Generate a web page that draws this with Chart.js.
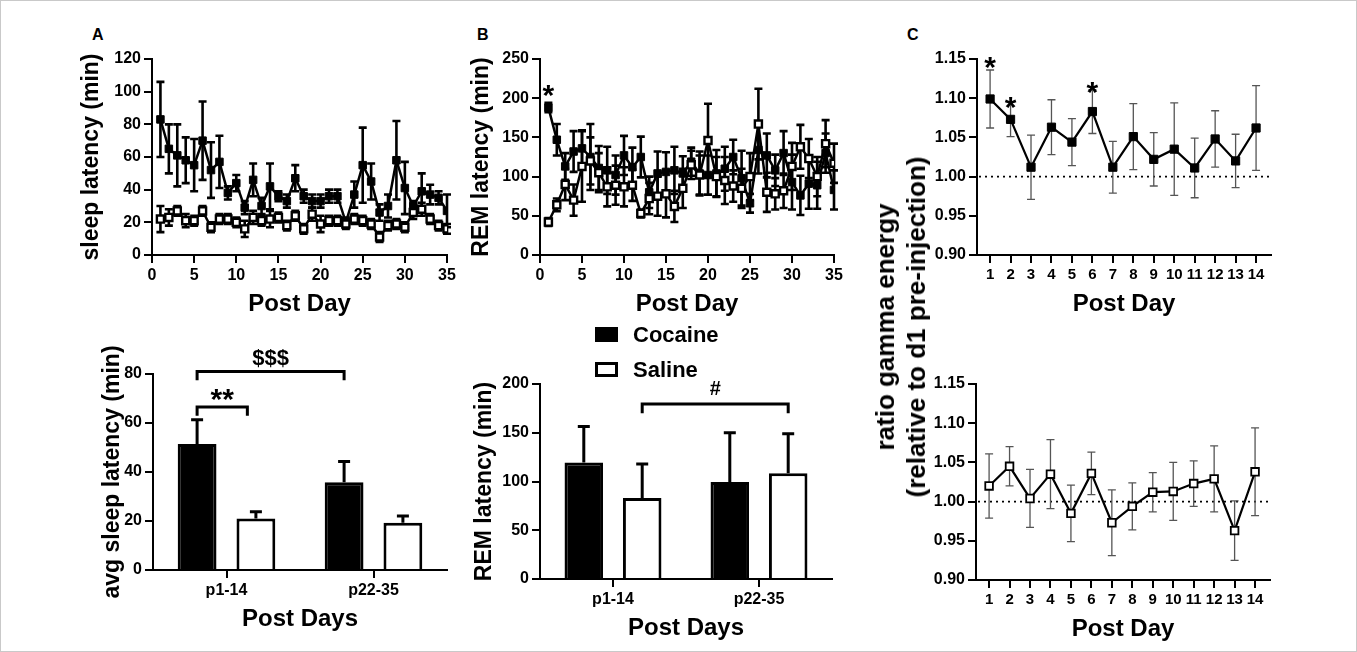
<!DOCTYPE html>
<html>
<head>
<meta charset="utf-8">
<script src="https://cdn.jsdelivr.net/npm/chart.js@4.4.1/dist/chart.umd.min.js"></script>
<style>
  html, body { margin: 0; padding: 0; background: #fff; }
  #figura { position: relative; width: 1357px; height: 652px; overflow: hidden;
            font-family: 'Liberation Sans', Arial, Helvetica, sans-serif; font-weight: bold; color: #000; }
  #marco { position: absolute; left: 0; top: 0; right: 0; bottom: 0; border: 1px solid #c9c9c9; }
  .caja { position: absolute; }
  .letra { position: absolute; font-size: 16px; line-height: 16px; }
  .ley-texto { position: absolute; font-size: 22px; line-height: 24px; }
  .ley-cuadro { position: absolute; width: 23px; height: 15px; box-sizing: border-box; }
  #tituloC { position: absolute; left: 901px; top: 327px; transform: translate(-50%, -50%) rotate(-90deg);
             white-space: nowrap; text-align: center; font-size: 26px; line-height: 31px; }
</style>
</head>
<body>
<div id="figura">
  <div id="marco"></div>
  <div class="letra" style="left:92px;top:27px">A</div>
  <div class="letra" style="left:477px;top:27px">B</div>
  <div class="letra" style="left:907px;top:27px">C</div>

  <div class="caja" style="left:78px;top:39px;width:384px;height:280px"><canvas id="latSueno"></canvas></div>
  <div class="caja" style="left:468px;top:39px;width:381px;height:280px"><canvas id="latRem"></canvas></div>
  <div class="caja" style="left:900px;top:39px;width:386px;height:280px"><canvas id="gammaCocaina"></canvas></div>
  <div class="caja" style="left:99px;top:344px;width:363px;height:290px"><canvas id="promSueno"></canvas></div>
  <div class="caja" style="left:471px;top:354px;width:376px;height:289px"><canvas id="promRem"></canvas></div>
  <div class="caja" style="left:899px;top:364px;width:386px;height:280px"><canvas id="gammaSalina"></canvas></div>

  <!-- Leyenda -->
  <div class="ley-cuadro" style="left:595px;top:327px;background:#000"></div>
  <div class="ley-texto" style="left:633px;top:323px">Cocaine</div>
  <div class="ley-cuadro" style="left:595px;top:362px;background:#fff;border:3px solid #000"></div>
  <div class="ley-texto" style="left:633px;top:358px">Saline</div>

  <div id="tituloC">ratio gamma energy<br>(relative to d1 pre-injection)</div>
</div>

<script>
// Días post inyección
const diasPost = [1, 2, 3, 4, 5, 6, 7, 8, 9, 10, 11, 12, 13, 14, 15, 16, 17, 18, 19, 20,
                  21, 22, 23, 24, 25, 26, 27, 28, 29, 30, 31, 32, 33, 34, 35];
const diasGamma = [1, 2, 3, 4, 5, 6, 7, 8, 9, 10, 11, 12, 13, 14];
const periodos = ['p1-14', 'p22-35'];

// A: latencia de sueño (min)
const latSuenoCocaina = [83, 65, 61, 58, 55, 70, 52, 57, 38, 44, 29, 46, 30, 42, 36, 33, 47, 36, 33, 33,
                         36, 36, 20, 37, 55, 45, 26, 30, 58, 41, 30, 39, 37, 35, 27];
const latSuenoCocainaErr = [23, 15, 19, 14, 16, 24, 17, 16, 4, 5, 4, 10, 5, 14, 3, 4, 8, 4, 4, 4,
                            4, 4, 3, 8, 23, 11, 5, 7, 24, 16, 3, 11, 6, 4, 10];
const latSuenoSalina = [22, 23, 27, 21, 21, 27, 17, 22, 22, 20, 16, 23, 21, 22, 23, 18, 24, 16, 25, 19,
                        21, 21, 19, 22, 21, 19, 11, 18, 19, 17, 26, 28, 22, 18, 16];
const latSuenoSalinaErr = [8, 5, 3, 4, 3, 3, 3, 3, 3, 3, 5, 4, 3, 5, 3, 3, 3, 3, 4, 5,
                           3, 3, 3, 3, 3, 3, 3, 3, 3, 3, 4, 4, 3, 3, 3];

// B: latencia REM (min)
const latRemCocaina = [188, 147, 113, 132, 136, 125, 111, 108, 102, 127, 112, 125, 80, 104, 106, 108, 104, 119, 104, 102,
                       104, 110, 125, 98, 66, 134, 127, 108, 130, 93, 76, 91, 89, 130, 83];
const latRemCocainaErr = [6, 20, 17, 26, 23, 42, 28, 30, 25, 25, 25, 26, 20, 28, 25, 30, 22, 18, 28, 25,
                          30, 28, 22, 35, 12, 30, 28, 20, 28, 35, 25, 32, 30, 25, 25];
const latRemSalina = [42, 64, 90, 70, 113, 120, 105, 87, 89, 87, 89, 53, 72, 75, 78, 62, 85, 115, 102, 146,
                      100, 95, 88, 85, 100, 167, 80, 78, 82, 113, 138, 123, 100, 142, 117];
const latRemSalinaErr = [5, 8, 20, 20, 45, 30, 25, 25, 25, 25, 20, 5, 20, 25, 30, 20, 25, 18, 25, 47,
                         25, 30, 20, 25, 30, 45, 25, 20, 22, 30, 28, 25, 25, 30, 25];

// A/B abajo: promedios por periodo
const promSuenoCocaina = [51.4, 35.8];
const promSuenoCocainaErr = [9.9, 8.5];
const promSuenoSalina = [21.0, 19.3];
const promSuenoSalinaErr = [2.8, 2.7];
const promRemCocaina = [119.5, 99.5];
const promRemCocainaErr = [37, 50.5];
const promRemSalina = [83, 108.5];
const promRemSalinaErr = [35, 40.5];

// C: energía gamma relativa
const gammaCocaina = [1.099, 1.073, 1.012, 1.063, 1.044, 1.083, 1.012, 1.051, 1.022, 1.035, 1.011, 1.048, 1.020, 1.062];
const gammaCocainaErr = [0.037, 0.022, 0.041, 0.035, 0.030, 0.028, 0.033, 0.042, 0.034, 0.059, 0.038, 0.036, 0.034, 0.054];
const gammaSalina = [1.020, 1.045, 1.004, 1.035, 0.985, 1.036, 0.973, 0.994, 1.012, 1.013, 1.023, 1.029, 0.963, 1.038];
const gammaSalinaErr = [0.041, 0.025, 0.037, 0.044, 0.036, 0.027, 0.042, 0.030, 0.025, 0.037, 0.029, 0.042, 0.038, 0.056];

Chart.defaults.font.family = "'Liberation Sans', Arial, Helvetica, sans-serif";
Chart.defaults.font.weight = 'bold';
Chart.defaults.color = '#000';
Chart.defaults.animation = false;
Chart.defaults.plugins.legend.display = false;
Chart.defaults.plugins.tooltip.enabled = false;

// Barras de error (SEM), dibujadas antes de cada dataset
const barrasError = {
  id: 'barrasError',
  beforeDatasetDraw(chart, args) {
    const ds = chart.data.datasets[args.index];
    if (!ds.err) return;
    const ctx = chart.ctx;
    const y = chart.scales.y;
    ctx.save();
    ctx.strokeStyle = ds.errColor || '#000';
    ctx.lineWidth = ds.errAncho || 2;
    args.meta.data.forEach((el, i) => {
      const d = ds.data[i];
      const v = typeof d === 'object' ? d.y : d;
      const c = (ds.errTapa || 8) / 2;
      const arriba = y.getPixelForValue(v + ds.err[i]);
      const abajo = ds.soloArriba ? el.y : y.getPixelForValue(v - ds.err[i]);
      ctx.beginPath();
      ctx.moveTo(el.x, abajo);
      ctx.lineTo(el.x, arriba);
      ctx.moveTo(el.x - c, arriba);
      ctx.lineTo(el.x + c, arriba);
      if (!ds.soloArriba) {
        ctx.moveTo(el.x - c, abajo);
        ctx.lineTo(el.x + c, abajo);
      }
      ctx.stroke();
    });
    ctx.restore();
  }
};

// Línea punteada de referencia en 1.00
function lineaPunteada(valor) {
  return {
    id: 'lineaPunteada',
    beforeDatasetsDraw(chart) {
      const { ctx, chartArea } = chart;
      const py = chart.scales.y.getPixelForValue(valor);
      ctx.save();
      ctx.strokeStyle = '#000';
      ctx.lineWidth = 1.8;
      ctx.setLineDash([2, 4]);
      ctx.beginPath();
      ctx.moveTo(chartArea.left + 2, py);
      ctx.lineTo(chartArea.right, py);
      ctx.stroke();
      ctx.restore();
    }
  };
}

// Corchetes y asteriscos de significancia
function marcas(corchetes, textos) {
  const posX = (chart, ref) => {
    const el = chart.getDatasetMeta(ref[0]).data[ref[1]];
    return el.x + (ref[2] || 0) * (el.width || 0);
  };
  return {
    id: 'marcas',
    afterDatasetsDraw(chart) {
      const ctx = chart.ctx;
      const y = chart.scales.y;
      ctx.save();
      ctx.strokeStyle = '#000';
      ctx.fillStyle = '#000';
      ctx.lineWidth = 3;
      corchetes.forEach(c => {
        const x1 = posX(chart, c.desde), x2 = posX(chart, c.hasta);
        const py = y.getPixelForValue(c.y), pb = y.getPixelForValue(c.baja);
        ctx.beginPath();
        ctx.moveTo(x1, pb);
        ctx.lineTo(x1, py);
        ctx.lineTo(x2, py);
        ctx.lineTo(x2, pb);
        ctx.stroke();
      });
      textos.forEach(t => {
        const x = t.en ? posX(chart, t.en) : (posX(chart, t.entre[0]) + posX(chart, t.entre[1])) / 2;
        ctx.font = `bold ${t.tam}px 'Liberation Sans', Arial, sans-serif`;
        ctx.textAlign = 'center';
        ctx.textBaseline = 'middle';
        ctx.fillText(t.texto, x, y.getPixelForValue(t.y) + (t.dy || 0));
      });
      ctx.restore();
    }
  };
}

function crearEjes(o) {
  const rejilla = { drawOnChartArea: false, color: '#000', lineWidth: 2, tickLength: 8, offset: false };
  const x = {
    type: o.xTipo,
    offset: o.xTipo === 'category',
    border: { color: '#000', width: 2 },
    grid: rejilla,
    ticks: { color: '#000', font: { size: o.tickX, weight: 'bold' }, padding: 3, maxRotation: 0, autoSkip: false },
    title: { display: true, text: o.tituloX, color: '#000', font: { size: 24, weight: 'bold' }, padding: 0 },
    afterFit: s => { s.height = 64; }
  };
  if (o.xMin !== undefined) { x.min = o.xMin; x.max = o.xMax; }
  if (o.xPaso) x.ticks.stepSize = o.xPaso;
  if (o.xTicks) x.afterBuildTicks = s => { s.ticks = o.xTicks.map(v => ({ value: v })); };

  const y = {
    min: o.yMin,
    max: o.yMax,
    border: { color: '#000', width: 2 },
    grid: rejilla,
    ticks: { stepSize: o.yPaso, color: '#000', font: { size: o.tickY, weight: 'bold' }, padding: 3 },
    title: o.tituloY
      ? { display: true, text: o.tituloY, color: '#000', font: { size: 23, weight: 'bold' }, padding: 0 }
      : { display: false },
    afterFit: s => { s.width = o.anchoY; }
  };
  if (o.yFormato) y.ticks.callback = o.yFormato;
  return { x, y };
}

const puntos = (xs, ys) => xs.map((d, i) => ({ x: d, y: ys[i] }));

function serieLinea(xs, valores, errores, relleno, radio, borde, extra) {
  return Object.assign({
    data: puntos(xs, valores),
    err: errores,
    borderColor: '#000',
    borderWidth: 2.5,
    pointStyle: 'rect',
    pointRadius: radio,
    pointBackgroundColor: relleno,
    pointBorderColor: '#000',
    pointBorderWidth: borde,
    tension: 0,
    errAncho: 2.6,
    errTapa: 8
  }, extra || {});
}

function serieBarra(valores, errores, relleno) {
  return {
    data: valores,
    err: errores,
    soloArriba: true,
    backgroundColor: relleno,
    borderColor: '#000',
    borderWidth: 3,
    categoryPercentage: 0.8,
    barPercentage: 0.66,
    errAncho: 3,
    errTapa: 12
  };
}

// A arriba
new Chart(document.getElementById('latSueno'), {
  type: 'line',
  data: {
    datasets: [
      serieLinea(diasPost, latSuenoSalina, latSuenoSalinaErr, '#fff', 5, 2.4),
      serieLinea(diasPost, latSuenoCocaina, latSuenoCocainaErr, '#000', 5.3, 1)
    ]
  },
  options: {
    responsive: true,
    maintainAspectRatio: false,
    layout: { padding: { top: 20, right: 15, left: 0, bottom: 0 } },
    scales: crearEjes({ xTipo: 'linear', xMin: 0, xMax: 35, xPaso: 5, tituloX: 'Post Day', tickX: 16,
                        yMin: 0, yMax: 120, yPaso: 20, tickY: 16, tituloY: 'sleep latency (min)', anchoY: 74 })
  },
  plugins: [barrasError]
});

// B arriba
new Chart(document.getElementById('latRem'), {
  type: 'line',
  data: {
    datasets: [
      serieLinea(diasPost, latRemSalina, latRemSalinaErr, '#fff', 5, 2.4),
      serieLinea(diasPost, latRemCocaina, latRemCocainaErr, '#000', 5.3, 1)
    ]
  },
  options: {
    responsive: true,
    maintainAspectRatio: false,
    layout: { padding: { top: 20, right: 15, left: 0, bottom: 0 } },
    scales: crearEjes({ xTipo: 'linear', xMin: 0, xMax: 35, xPaso: 5, tituloX: 'Post Day', tickX: 16,
                        yMin: 0, yMax: 250, yPaso: 50, tickY: 16, tituloY: 'REM latency (min)', anchoY: 72 })
  },
  plugins: [barrasError, marcas([], [{ en: [1, 0], y: 209, texto: '*', tam: 30, dy: 6 }])]
});

// C arriba (cocaína)
const estiloGamma = { errColor: '#555', errAncho: 1.3, errTapa: 8, borderWidth: 2.2 };
new Chart(document.getElementById('gammaCocaina'), {
  type: 'line',
  data: { datasets: [serieLinea(diasGamma, gammaCocaina, gammaCocainaErr, '#000', 5.8, 1, estiloGamma)] },
  options: {
    responsive: true,
    maintainAspectRatio: false,
    layout: { padding: { top: 20, right: 15, left: 0, bottom: 0 } },
    scales: crearEjes({ xTipo: 'linear', xMin: 0.36, xMax: 14.73, xTicks: diasGamma, tituloX: 'Post Day', tickX: 15,
                        yMin: 0.9, yMax: 1.15, yPaso: 0.05, tickY: 16, anchoY: 77, yFormato: v => v.toFixed(2) })
  },
  plugins: [lineaPunteada(1.0), barrasError, marcas([], [
    { en: [0, 0], y: 1.145, texto: '*', tam: 30, dy: 6 },
    { en: [0, 1], y: 1.094, texto: '*', tam: 30, dy: 6 },
    { en: [0, 5], y: 1.113, texto: '*', tam: 30, dy: 6 }
  ])]
});

// A abajo
new Chart(document.getElementById('promSueno'), {
  type: 'bar',
  data: {
    labels: periodos,
    datasets: [
      serieBarra(promSuenoCocaina, promSuenoCocainaErr, '#000'),
      serieBarra(promSuenoSalina, promSuenoSalinaErr, '#fff')
    ]
  },
  options: {
    responsive: true,
    maintainAspectRatio: false,
    layout: { padding: { top: 30, right: 15, left: 0, bottom: 0 } },
    scales: crearEjes({ xTipo: 'category', tituloX: 'Post Days', tickX: 16,
                        yMin: 0, yMax: 80, yPaso: 20, tickY: 16, tituloY: 'avg sleep latency (min)', anchoY: 54 })
  },
  plugins: [barrasError, marcas(
    [
      { desde: [0, 0], hasta: [1, 0, -0.22], y: 66.5, baja: 63 },
      { desde: [0, 0], hasta: [0, 1], y: 81, baja: 77.4 }
    ],
    [
      { entre: [[0, 0], [1, 0, -0.22]], y: 71.5, texto: '**', tam: 30, dy: 6 },
      { entre: [[0, 0], [0, 1]], y: 86, texto: '$$$', tam: 22 }
    ]
  )]
});

// B abajo
new Chart(document.getElementById('promRem'), {
  type: 'bar',
  data: {
    labels: periodos,
    datasets: [
      serieBarra(promRemCocaina, promRemCocainaErr, '#000'),
      serieBarra(promRemSalina, promRemSalinaErr, '#fff')
    ]
  },
  options: {
    responsive: true,
    maintainAspectRatio: false,
    layout: { padding: { top: 30, right: 15, left: 0, bottom: 0 } },
    scales: crearEjes({ xTipo: 'category', tituloX: 'Post Days', tickX: 16,
                        yMin: 0, yMax: 200, yPaso: 50, tickY: 16, tituloY: 'REM latency (min)', anchoY: 69 })
  },
  plugins: [barrasError, marcas(
    [{ desde: [1, 0], hasta: [1, 1], y: 179.5, baja: 170 }],
    [{ entre: [[1, 0], [1, 1]], y: 194, texto: '#', tam: 20 }]
  )]
});

// C abajo (salina)
new Chart(document.getElementById('gammaSalina'), {
  type: 'line',
  data: { datasets: [serieLinea(diasGamma, gammaSalina, gammaSalinaErr, '#fff', 5.4, 1.8, estiloGamma)] },
  options: {
    responsive: true,
    maintainAspectRatio: false,
    layout: { padding: { top: 20, right: 15, left: 0, bottom: 0 } },
    scales: crearEjes({ xTipo: 'linear', xMin: 0.36, xMax: 14.73, xTicks: diasGamma, tituloX: 'Post Day', tickX: 15,
                        yMin: 0.9, yMax: 1.15, yPaso: 0.05, tickY: 16, anchoY: 77, yFormato: v => v.toFixed(2) })
  },
  plugins: [lineaPunteada(1.0), barrasError]
});
</script>
</body>
</html>
